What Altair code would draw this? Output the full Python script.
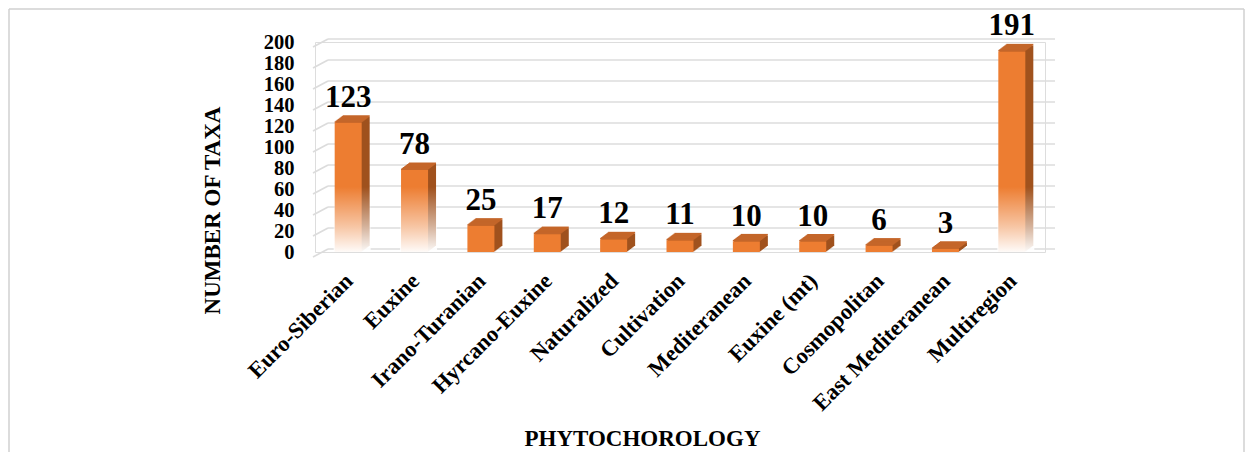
import altair as alt
import pandas as pd

categories = ["Euro-Siberian", "Euxine", "Irano-Turanian", "Hyrcano-Euxine", "Naturalized",
              "Cultivation", "Mediteranean", "Euxine (mt)", "Cosmopolitan",
              "East Mediteranean", "Multiregion"]
values = [123, 78, 25, 17, 12, 11, 10, 10, 6, 3, 191]
y_ticks = [0, 20, 40, 60, 80, 100, 120, 140, 160, 180, 200]

FONT = "Liberation Serif"
ORANGE = "#ED7D31"
TOPC = "#C4662A"
SIDE = "#A0521E"
GRID = "#DCDCDC"

df = pd.DataFrame({"cat": categories, "value": values})
df_t = pd.DataFrame({"t": y_ticks})

W, H = 730, 210
xs = alt.Scale(domain=categories, paddingInner=0, paddingOuter=0)
ys = alt.Scale(domain=[0, 200], nice=False, zero=True)

x_axis = alt.Axis(
    labelAngle=-45, labelAlign="right", labelBaseline="middle",
    labelPadding=25, labelOffset=1, labelFont=FONT, labelFontSize=22.5,
    labelFontWeight="bold", labelColor="black", domain=False, ticks=False,
    grid=False, labelLimit=300, labelOverlap=False,
    title="PHYTOCHOROLOGY", titleFont=FONT, titleFontSize=23, titleFontWeight="bold",
    titleColor="black", titleX=327, titleY=193, titleAlign="center",
    titleBaseline="alphabetic", titleAnchor="start")
y_axis = alt.Axis(
    values=y_ticks, labelFont=FONT, labelFontSize=20.5, labelFontWeight="bold",
    labelColor="black", labelPadding=21, domain=False, ticks=False, grid=False,
    labelOverlap=False, labelBound=False,
    title="NUMBER OF TAXA", titleFont=FONT, titleFontSize=23, titleFontWeight="bold",
    titleColor="black", titleX=-103, titleY=168, titleAngle=270, titleAlign="center",
    titleBaseline="middle", titleAnchor="start")

XE = alt.X("cat:N", sort=categories, scale=xs, axis=x_axis)


def YE(field):
    return alt.Y(field, scale=ys, axis=y_axis)


layers = []

# perspective gridlines
grid_h = alt.Chart(df_t).mark_rule(color=GRID, strokeWidth=1.6, yOffset=-3).encode(
    x=alt.value(13), x2=alt.value(740), y=YE("t:Q"))
grid_d = alt.Chart(df_t).mark_rule(color=GRID, strokeWidth=1.6, yOffset=5, y2Offset=-3).encode(
    x=alt.value(-2), x2=alt.value(13), y=YE("t:Q"), y2=alt.Y2("t"))
layers += [grid_h, grid_d]

# side faces (stacked offsets for 3D depth)
for k in range(8, 0, -1):
    layers.append(alt.Chart(df).mark_bar(
        size=27, color=SIDE, xOffset=k, yOffset=-0.75 * k, y2Offset=-0.75 * k
    ).encode(x=XE, y=YE("value:Q")))

# top faces
for k in range(8, -1, -1):
    layers.append(alt.Chart(df).mark_bar(
        size=27, color=TOPC, xOffset=k, yOffset=-0.75 * k - 1.6, y2Offset=-0.75 * k
    ).encode(x=XE, y=YE("value:Q"), y2=alt.Y2("value")))

# front faces
front = alt.Chart(df).mark_bar(size=27, color=ORANGE).encode(x=XE, y=YE("value:Q"))
layers.append(front)

# fade to white at the bottom of tall bars
fade_grad = alt.Gradient(
    gradient="linear", x1=0, y1=0, x2=0, y2=1,
    stops=[alt.GradientStop(color="rgba(255,255,255,0)", offset=0),
           alt.GradientStop(color="rgba(255,255,255,0.55)", offset=0.6),
           alt.GradientStop(color="rgba(255,255,255,0.97)", offset=1)])
fade = alt.Chart(df).transform_calculate(
    fade="datum.value > 60 ? 62 : 0"
).transform_filter("datum.fade > 0").mark_bar(
    size=37, xOffset=4, color=fade_grad
).encode(x=XE, y=YE("fade:Q"))
layers.append(fade)

# value labels
labels = alt.Chart(df).mark_text(
    font=FONT, fontSize=31, fontWeight="bold", color="black",
    baseline="alphabetic", dy=-16
).encode(x=XE, y=YE("value:Q"), text=alt.Text("value:Q"))
layers.append(labels)

# outer frame (left, top, right)
one = alt.Data(values=[{"a": 1}])
frame_col = "#D0D0D0"
layers.append(alt.Chart(one).mark_rule(color=frame_col, strokeWidth=1.5).encode(
    x=alt.value(-306), y=alt.value(-33), y2=alt.value(430)))
layers.append(alt.Chart(one).mark_rule(color=frame_col, strokeWidth=1.5).encode(
    x=alt.value(-306), x2=alt.value(929), y=alt.value(-33)))
layers.append(alt.Chart(one).mark_rule(color=frame_col, strokeWidth=1.5).encode(
    x=alt.value(929), y=alt.value(-33), y2=alt.value(430)))

chart = alt.layer(*layers).properties(
    width=W, height=H,
    autosize=alt.AutoSizeParams(type="none"),
    padding={"left": 307, "top": 34, "right": 201, "bottom": 200},
).configure_view(stroke=None).configure(background="white")

chart.save("out.html", embed_options={"renderer": "svg", "actions": False})
